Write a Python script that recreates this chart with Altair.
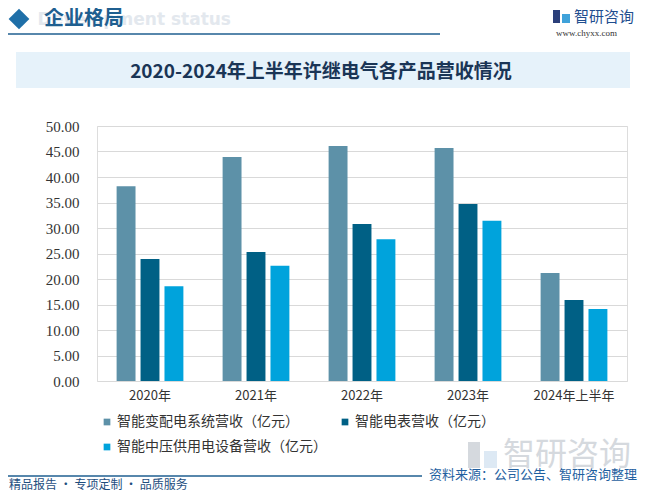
import altair as alt
import pandas as pd

years = ["2020年", "2021年", "2022年", "2023年", "2024年上半年"]
series = ["智能变配电系统营收（亿元）", "智能电表营收（亿元）", "智能中压供用电设备营收（亿元）"]
s1 = [38.2, 43.9, 46.1, 45.7, 21.2]
s2 = [23.9, 25.3, 30.8, 34.7, 15.9]
s3 = [18.6, 22.6, 27.8, 31.4, 14.1]
colors = ["#5D91A8", "#006085", "#00A3DC"]

rows = []
for i, y in enumerate(years):
    for name, vals in zip(series, [s1, s2, s3]):
        rows.append({"year": y, "series": name, "value": vals[i]})
df = pd.DataFrame(rows)
one = pd.DataFrame({"a": [0]})

CJK = "Noto Sans CJK SC"
OX, OY = 97, 126  # plot origin on page


def px(v):
    return alt.value(v - OX)


def py(v):
    return alt.value(v - OY)


bars = alt.Chart(df).mark_bar().encode(
    x=alt.X("year:N", sort=years, title=None,
            scale=alt.Scale(paddingInner=0.37, paddingOuter=0.185),
            axis=alt.Axis(labelAngle=0, labelFont=CJK, labelFontSize=13, labelColor="#333333",
                          labelPadding=8, ticks=False, domain=False)),
    xOffset=alt.XOffset("series:N", sort=series,
                        scale=alt.Scale(paddingInner=0.21, paddingOuter=0)),
    y=alt.Y("value:Q", title=None,
            scale=alt.Scale(domain=[0, 50]),
            axis=alt.Axis(values=[0, 5, 10, 15, 20, 25, 30, 35, 40, 45, 50], format=".2f",
                          labelFont="Liberation Serif", labelFontSize=15, labelColor="#333333",
                          labelPadding=18, ticks=False, domain=False,
                          gridColor="#D9D9D9", gridWidth=1)),
    color=alt.Color("series:N", sort=series,
                    scale=alt.Scale(domain=series, range=colors),
                    legend=alt.Legend(title=None, orient="none", legendX=3, legendY=289,
                                      columns=2, direction="horizontal", symbolType="square",
                                      symbolSize=45, symbolStrokeWidth=0, labelFont=CJK,
                                      labelFontSize=14, labelColor="#333333", rowPadding=11,
                                      columnPadding=11, labelOffset=3, labelLimit=400)),
)

deco = []
# header diamond
deco.append(alt.Chart(one).mark_point(shape="diamond", filled=True, size=430, color="#1F6FA8", opacity=1)
            .encode(x=px(19), y=py(19)))
# faint english subtitle
deco.append(alt.Chart(one).mark_text(text="Development status", font="DejaVu Sans", fontSize=17,
                                     fontWeight="bold", color="#E3E8EE", align="right", baseline="middle")
            .encode(x=px(231), y=py(20)))
deco.append(alt.Chart(one).mark_text(text="企业格局", font=CJK, fontSize=20, fontWeight="bold",
                                     color="#1F5F90", align="left", baseline="middle")
            .encode(x=px(44), y=py(19)))
# header line
deco.append(alt.Chart(one).mark_rule(color="#1F5F90", strokeWidth=1.5)
            .encode(x=px(0), x2=px(440), y=py(34)))
# logo top right
deco.append(alt.Chart(one).mark_rect(color="#2B3F7A").encode(x=px(553), x2=px(560), y=py(10), y2=py(23)))
deco.append(alt.Chart(one).mark_rect(color="#3FA2DA").encode(x=px(562), x2=px(570), y=py(14), y2=py(23)))
deco.append(alt.Chart(one).mark_text(text="智研咨询", font=CJK, fontSize=15, color="#1F4E8F",
                                     align="left", baseline="middle")
            .encode(x=px(574), y=py(17)))
deco.append(alt.Chart(one).mark_text(text="www.chyxx.com", font="Liberation Serif", fontSize=9,
                                     color="#333333", align="left", baseline="middle")
            .encode(x=px(556), y=py(33)))
# title box
deco.append(alt.Chart(one).mark_rect(color="#E6F2FA").encode(x=px(16), x2=px(630), y=py(52), y2=py(88)))
deco.append(alt.Chart(one).mark_text(text="2020-2024年上半年许继电气各产品营收情况", font=CJK, fontSize=19,
                                     fontWeight="bold", color="#1A3556", align="center", baseline="middle")
            .encode(x=px(321), y=py(72)))
# bottom watermark logo
deco.append(alt.Chart(one).mark_text(text="智研咨询", font=CJK, fontSize=32, color="#D5D9DE",
                                     align="left", baseline="middle")
            .encode(x=px(503), y=py(455)))
deco.append(alt.Chart(one).mark_rect(color="#D5D9DE").encode(x=px(468), x2=px(480), y=py(442), y2=py(468)))
deco.append(alt.Chart(one).mark_rect(color="#DDE9F4").encode(x=px(484), x2=px(497), y=py(451), y2=py(468)))
# bottom line & texts
deco.append(alt.Chart(one).mark_rule(color="#1F5F90", strokeWidth=1.5)
            .encode(x=px(0), x2=px(422), y=py(476)))
deco.append(alt.Chart(one).mark_text(text="资料来源：公司公告、智研咨询整理", font=CJK, fontSize=13,
                                     color="#1F5F9F", align="right", baseline="middle")
            .encode(x=px(637), y=py(475)))
deco.append(alt.Chart(one).mark_text(text="精品报告 · 专项定制 · 品质服务", font=CJK, fontSize=12,
                                     color="#1E4E7E", align="left", baseline="middle")
            .encode(x=px(9), y=py(485)))

chart = alt.layer(*deco[:10], bars, *deco[10:]).properties(
    width=530, height=255,
    autosize=alt.AutoSizeParams(type="none"),
    padding={"left": 89, "top": 118, "right": 11, "bottom": 111},
).configure_view(stroke=None).configure(background="white")

chart.save("out.html", embed_options={"renderer": "svg", "actions": False})
